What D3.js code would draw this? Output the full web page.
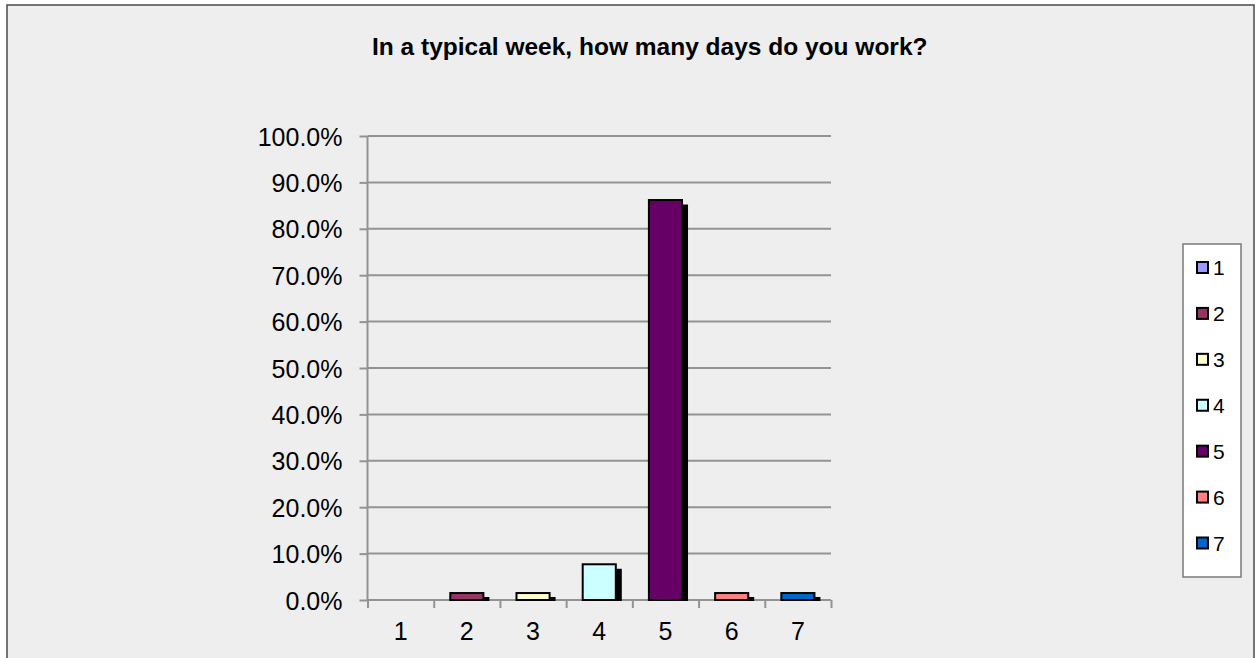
<!DOCTYPE html>
<html>
<head>
<meta charset="utf-8">
<script src="https://cdn.jsdelivr.net/npm/d3@7"></script>
<style>
  html, body { margin: 0; padding: 0; background: #ffffff; }
  svg { display: block; font-family: "Liberation Sans", Arial, Helvetica, sans-serif; }
</style>
</head>
<body>
<svg id="chart" width="1255" height="658"></svg>
<script>
const title = "In a typical week, how many days do you work?";
const categories = ["1", "2", "3", "4", "5", "6", "7"];
const values = [0, 1.5, 1.5, 7.7, 86.2, 1.5, 1.5];
const colors = ["#9999FF", "#993366", "#FFFFCC", "#CCFFFF", "#660066", "#FF8080", "#0066CC"];
const yTicks = [0, 10, 20, 30, 40, 50, 60, 70, 80, 90, 100];

const svg = d3.select("#chart");

// chart frame
svg.append("rect")
  .attr("x", 7).attr("y", 5).attr("width", 1247).attr("height", 700)
  .attr("fill", "#EEEEEE").attr("stroke", "#4a4a4a").attr("stroke-width", 1.5);

// title
svg.append("text")
  .attr("x", 372).attr("y", 55)
  .attr("font-size", 24.5).attr("font-weight", "bold").attr("fill", "#000")
  .text(title);

const plotLeft = 367.5, plotRight = 831, plotTop = 136, plotBottom = 600;

const x = d3.scaleBand().domain(categories).range([plotLeft, plotRight])
  .paddingInner(0.5).paddingOuter(0.25);
const xEdges = d3.scaleLinear().domain([0, categories.length]).range([plotLeft, plotRight]);
const y = d3.scaleLinear().domain([0, 100]).range([plotBottom, plotTop]);

// gridlines
svg.append("g").selectAll("line").data(yTicks).join("line")
  .attr("x1", plotLeft).attr("x2", plotRight)
  .attr("y1", d => y(d)).attr("y2", d => y(d))
  .attr("stroke", "#939393").attr("stroke-width", 2);

// y axis
const yAxis = svg.append("g").attr("transform", `translate(${plotLeft},0)`)
  .call(d3.axisLeft(y).tickValues(yTicks).tickFormat(d => d.toFixed(1) + "%").tickSize(8).tickPadding(17));
yAxis.select(".domain").attr("stroke", "#939393").attr("stroke-width", 2).attr("d", `M0,${plotTop}V${plotBottom}`);
yAxis.selectAll(".tick line").attr("stroke", "#939393").attr("stroke-width", 2);
yAxis.selectAll(".tick text").attr("font-size", 25).attr("fill", "#000").attr("font-family", "Liberation Sans, Arial, sans-serif").attr("dy", "0.36em");

// x axis tick marks at category edges
const xTickAxis = svg.append("g").attr("transform", `translate(0,${plotBottom})`)
  .call(d3.axisBottom(xEdges).tickValues(d3.range(categories.length + 1)).tickFormat("").tickSize(8));
xTickAxis.select(".domain").attr("stroke", "#939393").attr("stroke-width", 2).attr("d", `M${plotLeft},0H${plotRight}`);
xTickAxis.selectAll(".tick line").attr("stroke", "#939393").attr("stroke-width", 2);

// x axis labels
const xAxis = svg.append("g").attr("transform", `translate(0,${plotBottom})`)
  .call(d3.axisBottom(x).tickSize(0).tickPadding(22));
xAxis.select(".domain").remove();
xAxis.selectAll(".tick text").attr("font-size", 25).attr("fill", "#000").attr("font-family", "Liberation Sans, Arial, sans-serif");

// bars with shadows
const data = categories.map((c, i) => ({ c, v: values[i], color: colors[i] }));
const barG = svg.append("g");
barG.selectAll("rect.shadow").data(data.filter(d => d.v > 0)).join("rect")
  .attr("class", "shadow")
  .attr("x", d => x(d.c) + 6).attr("y", d => Math.min(y(d.v) + 4.5, plotBottom - 3))
  .attr("width", x.bandwidth())
  .attr("height", d => plotBottom + 1 - Math.min(y(d.v) + 4.5, plotBottom - 3))
  .attr("fill", "#000");
barG.selectAll("rect.bar").data(data.filter(d => d.v > 0)).join("rect")
  .attr("class", "bar")
  .attr("x", d => x(d.c)).attr("y", d => y(d.v))
  .attr("width", x.bandwidth()).attr("height", d => plotBottom - y(d.v))
  .attr("fill", d => d.color).attr("stroke", "#000").attr("stroke-width", 2);

// legend
const legendG = svg.append("g");
legendG.append("rect")
  .attr("x", 1183).attr("y", 244).attr("width", 58).attr("height", 333)
  .attr("fill", "#ffffff").attr("stroke", "#7a7a7a").attr("stroke-width", 1.5);
const ly = d3.scalePoint().domain(categories).range([267.5, 543]);
const items = legendG.selectAll("g.item").data(data).join("g").attr("class", "item")
  .attr("transform", d => `translate(0,${ly(d.c)})`);
items.append("rect")
  .attr("x", 1197).attr("y", -5.5).attr("width", 11).attr("height", 11)
  .attr("fill", d => d.color).attr("stroke", "#000").attr("stroke-width", 2);
items.append("text")
  .attr("x", 1213).attr("y", 0).attr("dy", "0.36em")
  .attr("font-size", 21).attr("fill", "#000")
  .text(d => d.c);
</script>
</body>
</html>
